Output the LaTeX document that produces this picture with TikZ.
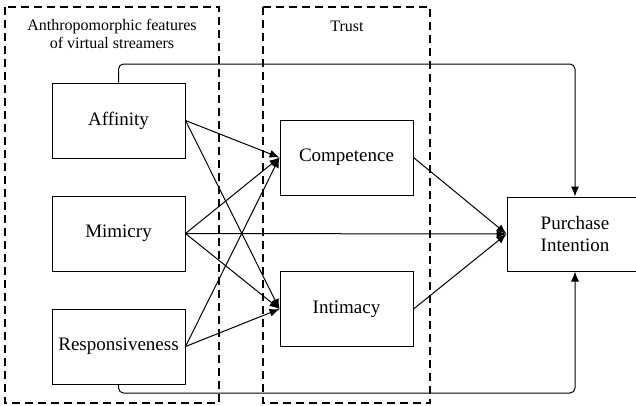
\documentclass[tikz,border=0pt]{standalone}
\usepackage{fontspec}
\setmainfont{Liberation Serif}
\usetikzlibrary{arrows.meta}

\begin{document}
\begin{tikzpicture}[x = 1pt, y = -1pt,
	factor/.style = {rectangle, draw, line width = 1pt, minimum width = 133pt, minimum height = 75pt, inner sep = 0pt, font = \fontsize{19}{22}\selectfont, align = center},
	group/.style = {draw, line width = 1.2pt, dash pattern = on 8pt off 5pt},
	link/.style = {line width = 1pt, -{Latex[length = 10pt, width = 8pt]}},
	caption/.style = {font = \fontsize{16}{18}\selectfont, align = center}]

\useasboundingbox (0,0) rectangle (636,405);

%% Draw Groups

\draw[group] (5,7) rectangle (219,403);
\draw[group] (263,7) rectangle (430,403);

\node[caption] (anthro) at (112, 34) {Anthropomorphic features\\of virtual streamers};
\node[caption] (trust) at (347, 26) {Trust};

%% Draw Features

\node[factor] (aff) at (118.5, 120.5) {Affinity};
\node[factor] (mim) at (118.5, 233.5) {Mimicry};
\node[factor] (resp) at (118.5, 346.5) {Responsiveness};

%% Draw Trust

\node[factor] (comp) at (346.5, 157.5) {Competence};
\node[factor] (intim) at (346.5, 309) {Intimacy};

%% Draw Outcome

\node[factor, minimum width = 136pt, minimum height = 74pt] (pi) at (575, 234) {Purchase\\Intention};

%%% Arrows

\foreach \src in {aff, mim, resp}{
	\draw[link] (\src.east) -- (comp.west);
	\draw[link] (\src.east) -- (intim.west);
}

\draw[link] (mim.east) -- (pi.west);
\draw[link] (comp.east) -- (pi.west);
\draw[link] (intim.east) -- (pi.west);

%%% Direct paths

\coordinate (over) at (0, 64);
\coordinate (under) at (0, 393);

\draw[link, rounded corners = 5pt] (aff.north) |- (over -| pi.north) -- (pi.north);
\draw[link, rounded corners = 5pt] (resp.south) |- (under -| pi.south) -- (pi.south);

\end{tikzpicture}
\end{document}
